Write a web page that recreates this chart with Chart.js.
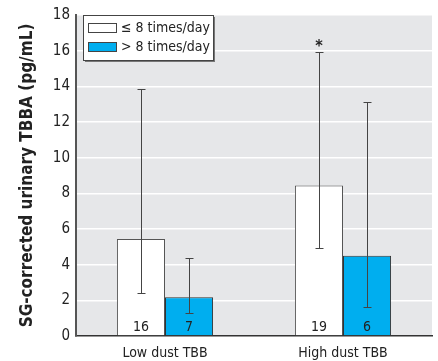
<!DOCTYPE html>
<html>
<head>
<meta charset="utf-8">
<script src="https://cdn.jsdelivr.net/npm/chart.js@4"></script>
<style>
  html, body { margin: 0; padding: 0; background: #fff; }
  #wrap { width: 438px; height: 361px; }
</style>
</head>
<body>
<div id="wrap"><canvas id="c" width="438" height="361"></canvas></div>
<script>
const categories = ["Low dust TBB", "High dust TBB"];
const seriesNames = ["\u2264 8 times/day", "> 8 times/day"];
const lowFreqMean = [5.44, 8.44];
const highFreqMean = [2.17, 4.5];
const lowFreqErr = [[2.39, 13.83], [4.94, 15.94]];
const highFreqErr = [[1.28, 4.39], [1.61, 13.1]];
const lowFreqN = ["16", "19"];
const highFreqN = ["7", "6"];
const significant = [[false, false], [true, false]];

const FONT = "'DejaVu Sans Condensed', 'Liberation Sans Narrow', sans-serif";

const extras = {
    id: "extras",
    beforeDraw(chart) {
        const a = chart.chartArea;
        const ctx = chart.ctx;
        ctx.save();
        ctx.fillStyle = "#e6e7e9";
        ctx.fillRect(a.left, a.top, a.right - a.left, a.bottom - a.top);
        ctx.restore();
    },
    afterDatasetsDraw(chart) {
        const ctx = chart.ctx;
        const y = chart.scales.y;
        const errs = [lowFreqErr, highFreqErr];
        const ns = [lowFreqN, highFreqN];
        ctx.save();
        chart.data.datasets.forEach((ds, di) => {
            chart.getDatasetMeta(di).data.forEach((bar, i) => {
                const [lo, hi] = errs[di][i];
                const x = Math.round(bar.x) + 0.5;
                const yl = Math.round(y.getPixelForValue(lo)) + 0.5;
                const yh = Math.round(y.getPixelForValue(hi)) + 0.5;
                ctx.strokeStyle = "#444";
                ctx.lineWidth = 1;
                ctx.beginPath();
                ctx.moveTo(x, yl); ctx.lineTo(x, yh);
                ctx.moveTo(x - 4, yl); ctx.lineTo(x + 4, yl);
                ctx.moveTo(x - 4, yh); ctx.lineTo(x + 4, yh);
                ctx.stroke();
                ctx.fillStyle = "#222";
                ctx.font = "14px " + FONT;
                ctx.textAlign = "center";
                ctx.textBaseline = "middle";
                ctx.fillText(ns[di][i], bar.x, y.getPixelForValue(0) - 9);
                if (significant[i][di]) {
                    ctx.font = "bold 16px " + FONT;
                    ctx.fillText("*", bar.x, yh - 6);
                }
            });
        });
        // legend box
        const lx = 83, ly = 15, lw = 130, lh = 45;
        ctx.fillStyle = "#777";
        ctx.fillRect(lx + 2, ly + 2, lw, lh);
        ctx.fillStyle = "#fff";
        ctx.fillRect(lx, ly, lw, lh);
        ctx.strokeStyle = "#444";
        ctx.strokeRect(lx + 0.5, ly + 0.5, lw, lh);
        chart.data.datasets.forEach((ds, di) => {
            const sy = ly + 8 + di * 19;
            ctx.fillStyle = ds.backgroundColor;
            ctx.fillRect(88.5, sy + 0.5, 28, 9);
            ctx.strokeStyle = "#444";
            ctx.strokeRect(88.5, sy + 0.5, 28, 9);
            ctx.fillStyle = "#222";
            ctx.font = "14px " + FONT;
            ctx.textAlign = "left";
            ctx.textBaseline = "middle";
            ctx.fillText(ds.label, 121, sy + 5);
        });
        ctx.restore();
    }
};

new Chart(document.getElementById("c"), {
    type: "bar",
    data: {
        labels: categories,
        datasets: [
            {
                label: seriesNames[0],
                data: lowFreqMean,
                backgroundColor: "#ffffff",
                borderColor: "#555",
                borderWidth: 1,
                borderSkipped: "bottom"
            },
            {
                label: seriesNames[1],
                data: highFreqMean,
                backgroundColor: "#00aeef",
                borderColor: "#333",
                borderWidth: 1,
                borderSkipped: "bottom"
            }
        ]
    },
    options: {
        responsive: false,
        animation: false,
        layout: { padding: { top: 11, right: 6, left: 0, bottom: 0 } },
        datasets: { bar: { categoryPercentage: 0.54, barPercentage: 1 } },
        plugins: { legend: { display: false }, tooltip: { enabled: false } },
        scales: {
            x: {
                grid: { display: false, drawTicks: false },
                border: { color: "#333", width: 1.5 },
                ticks: { color: "#222", font: { family: FONT, size: 14 }, padding: 9 },
                afterFit(s) { s.height = 25; }
            },
            y: {
                min: 0, max: 18,
                ticks: { stepSize: 2, color: "#222", font: { family: FONT, size: 15 }, padding: 6 },
                grid: { color: "#ffffff", lineWidth: 1.5, drawTicks: false },
                border: { color: "#555", width: 2 },
                title: {
                    display: true,
                    text: "SG-corrected urinary TBBA (pg/mL)",
                    color: "#222",
                    font: { family: FONT, size: 17, weight: "bold" },
                    padding: { top: 17, bottom: 6 }
                },
                afterFit(s) { s.width = 76; }
            }
        }
    },
    plugins: [extras]
});
</script>
</body>
</html>
